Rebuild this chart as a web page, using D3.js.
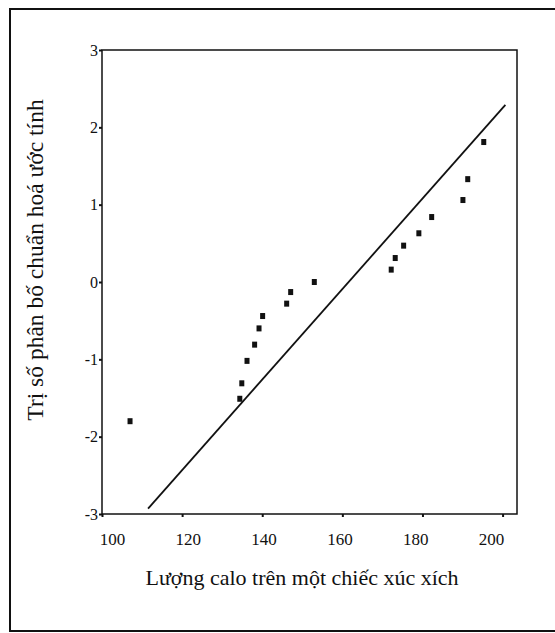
<!DOCTYPE html>
<html>
<head>
<meta charset="utf-8">
<script src="https://cdn.jsdelivr.net/npm/d3@7"></script>
<style>
  body { margin: 0; background: #fff; }
  text { font-family: "Liberation Serif", "Times New Roman", serif; fill: #111; }
</style>
</head>
<body>
<svg id="chart"></svg>
<script>
// calories per hot dog (x) vs estimated normal score (y)
const calories = [107.0, 134.4, 134.9, 136.2, 138.1, 139.2, 140.1, 146.1, 147.1, 153.0,
                  172.2, 173.2, 175.3, 179.1, 182.3, 190.1, 191.3, 195.3];
const normalScores = [-1.80, -1.51, -1.31, -1.02, -0.81, -0.60, -0.44, -0.28, -0.13, 0.00,
                      0.16, 0.31, 0.47, 0.63, 0.84, 1.06, 1.33, 1.81];
// reference line end points
const lineX = [111.5, 200.7];
const lineY = [-2.93, 2.29];
const xTicks = [100, 120, 140, 160, 180, 200];
const yTicks = [-3, -2, -1, 0, 1, 2, 3];

function drawPlot(selector) {
  const width = 555, height = 633;
  const margin = { top: 50, right: 38, bottom: 119, left: 102 };

  const svg = d3.select(selector)
    .attr("width", width)
    .attr("height", height);

  // outer frame of the figure (right side runs off the page)
  svg.append("rect")
    .attr("x", 10).attr("y", 9)
    .attr("width", 600).attr("height", 622)
    .attr("fill", "none")
    .attr("stroke", "#111")
    .attr("stroke-width", 2);

  const x = d3.scaleLinear()
    .domain([100, 203.6])
    .range([margin.left, width - margin.right]);

  const y = d3.scaleLinear()
    .domain([-3, 3])
    .range([height - margin.bottom, margin.top]);

  // tick labels in the scan sit a little inside the tick marks
  const xLab = d3.scaleLinear()
    .domain([100, 200])
    .range([112, 491]);

  // plot box
  svg.append("rect")
    .attr("x", x(100)).attr("y", y(3))
    .attr("width", x(203.6) - x(100))
    .attr("height", y(-3) - y(3))
    .attr("fill", "none")
    .attr("stroke", "#111")
    .attr("stroke-width", 1.5);

  svg.append("g")
    .attr("transform", `translate(0,${y(-3)})`)
    .call(d3.axisBottom(x).tickValues(xTicks).tickSize(3).tickFormat(""))
    .call(g => g.select(".domain").remove())
    .call(g => g.selectAll("line").attr("stroke", "#111").attr("stroke-width", 2));

  svg.append("g")
    .attr("transform", `translate(0,${y(-3)})`)
    .call(d3.axisBottom(xLab).tickValues(xTicks).tickSize(0).tickPadding(19))
    .call(g => g.select(".domain").remove())
    .call(g => g.selectAll("text").attr("font-size", "17px"));

  svg.append("g")
    .attr("transform", `translate(${x(100)},0)`)
    .call(d3.axisLeft(y).tickValues(yTicks).tickSize(3).tickPadding(1)
      .tickFormat(d => String(d)))
    .call(g => g.select(".domain").remove())
    .call(g => g.selectAll("line").attr("stroke", "#111").attr("stroke-width", 2))
    .call(g => g.selectAll("text").attr("font-size", "16px"));

  // reference line
  svg.append("line")
    .attr("x1", x(lineX[0])).attr("y1", y(lineY[0]))
    .attr("x2", x(lineX[1])).attr("y2", y(lineY[1]))
    .attr("stroke", "#111")
    .attr("stroke-width", 1.8);

  // points
  svg.append("g")
    .selectAll("rect")
    .data(calories)
    .join("rect")
      .attr("x", d => x(d) - 2.5)
      .attr("y", (d, i) => y(normalScores[i]) - 3)
      .attr("width", 5)
      .attr("height", 6)
      .attr("fill", "#111");

  svg.append("text")
    .attr("x", 302)
    .attr("y", 585)
    .attr("text-anchor", "middle")
    .attr("font-size", "22px")
    .text("Lượng calo trên một chiếc xúc xích");

  svg.append("text")
    .attr("transform", "translate(43,260) rotate(-90)")
    .attr("text-anchor", "middle")
    .attr("font-size", "23.5px")
    .text("Trị số phân bố chuẩn hoá ước tính");
}

drawPlot("#chart");
</script>
</body>
</html>
